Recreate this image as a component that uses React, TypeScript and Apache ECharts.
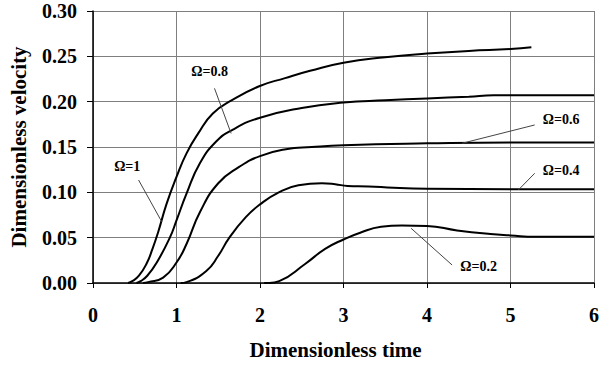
import React, { useEffect, useRef } from "react";
import * as echarts from "echarts";

const xTicks = [0, 1, 2, 3, 4, 5, 6];
const yTicks = [0, 0.05, 0.1, 0.15, 0.2, 0.25, 0.3];

const omega1: [number, number][] = [
  [0.42, 0], [0.47, 0.002], [0.55, 0.008], [0.645, 0.022], [0.71, 0.037], [0.78, 0.056],
  [0.88, 0.087], [1.0, 0.117], [1.12, 0.143], [1.26, 0.165], [1.435, 0.187], [1.67, 0.202],
  [1.99, 0.217], [2.3, 0.226], [2.6, 0.234], [3.0, 0.243], [3.5, 0.249], [4.0, 0.253],
  [4.5, 0.256], [5.0, 0.258], [5.25, 0.26],
];
const omega08: [number, number][] = [
  [0.52, 0], [0.57, 0.002], [0.65, 0.008], [0.764, 0.0226], [0.92, 0.05], [1.0, 0.069],
  [1.12, 0.0986], [1.28, 0.132], [1.475, 0.156], [1.67, 0.169], [1.99, 0.182], [2.5, 0.193],
  [3.0, 0.199], [3.5, 0.2015], [4.0, 0.2035], [4.5, 0.2055], [4.8, 0.207], [6.0, 0.207],
];
const omega06: [number, number][] = [
  [0.6, 0], [0.66, 0.001], [0.84, 0.006], [1.0, 0.0226], [1.12, 0.043], [1.28, 0.078],
  [1.5, 0.11], [1.75, 0.128], [2.0, 0.14], [2.31, 0.1475], [2.62, 0.15], [3.0, 0.152],
  [4.0, 0.154], [5.0, 0.155], [6.0, 0.155],
];
const omega04: [number, number][] = [
  [1.05, 0], [1.12, 0.001], [1.357, 0.0133], [1.5, 0.03], [1.633, 0.05], [1.83, 0.0726],
  [2.0, 0.0867], [2.225, 0.1], [2.46, 0.1078], [2.74, 0.11], [2.9, 0.109], [3.05, 0.107],
  [3.3, 0.1065], [3.6, 0.105], [4.0, 0.104], [5.0, 0.1035], [6.0, 0.1035],
];
const omega02: [number, number][] = [
  [2.05, 0], [2.11, 0], [2.23, 0.002], [2.54, 0.021], [2.78, 0.0376], [3.0, 0.048],
  [3.2, 0.0555], [3.45, 0.062], [3.7, 0.0635], [4.0, 0.063], [4.36, 0.058], [4.76, 0.054],
  [5.0, 0.0525], [5.3, 0.051], [6.0, 0.051],
];

const seriesNames = ["Ω=1", "Ω=0.8", "Ω=0.6", "Ω=0.4", "Ω=0.2"];
const seriesData = [omega1, omega08, omega06, omega04, omega02];

// label positions and leader lines in data units: [label, textX, textY, fromX, fromY, toX, toY]
const annotations: [string, number, number, number, number, number, number][] = [
  ["Ω=1", 0.41, 0.128, 0.546, 0.1136, 0.823, 0.0676],
  ["Ω=0.8", 1.397, 0.233, 1.455, 0.2147, 1.654, 0.165],
  ["Ω=0.6", 5.607, 0.18, 5.29, 0.1743, 4.42, 0.1541],
  ["Ω=0.4", 5.607, 0.1246, 5.29, 0.121, 5.094, 0.1026],
  ["Ω=0.2", 4.619, 0.018, 4.3, 0.0199, 3.81, 0.0603],
];

const FONT = "'Liberation Serif', 'Times New Roman', serif";

export default function App() {
  const ref = useRef<HTMLDivElement>(null);
  useEffect(() => {
    if (!ref.current) return;
    const chart = echarts.init(ref.current, null, { renderer: "svg" });
    chart.setOption({
      animation: false,
      backgroundColor: "#ffffff",
      grid: { left: 92, top: 11, right: 4, bottom: 82, containLabel: false },
      xAxis: {
        type: "value",
        min: xTicks[0],
        max: xTicks[xTicks.length - 1],
        interval: 1,
        name: "Dimensionless time",
        nameLocation: "middle",
        nameGap: 56,
        nameTextStyle: {
          fontFamily: FONT, fontWeight: "bold", fontSize: 21, color: "#000",
          padding: [0, 16, 0, 0],
        },
        axisLine: { onZero: false, lineStyle: { color: "#000", width: 1.5 } },
        axisTick: { show: true, length: 5, inside: false, lineStyle: { color: "#000" } },
        axisLabel: { fontFamily: FONT, fontWeight: "bold", fontSize: 20, color: "#000", margin: 22 },
        splitLine: { show: true, lineStyle: { color: "#7f7f7f", width: 1 } },
      },
      yAxis: {
        type: "value",
        min: yTicks[0],
        max: yTicks[yTicks.length - 1],
        interval: 0.05,
        name: "Dimensionless velocity",
        nameLocation: "middle",
        nameGap: 64,
        nameTextStyle: { fontFamily: FONT, fontWeight: "bold", fontSize: 21, color: "#000" },
        axisLine: { show: true, lineStyle: { color: "#000", width: 1.5 } },
        axisTick: { show: true, length: 6, lineStyle: { color: "#000" } },
        axisLabel: {
          fontFamily: FONT, fontWeight: "bold", fontSize: 20, color: "#000", margin: 16,
          formatter: (v: number) => v.toFixed(2),
        },
        splitLine: { show: true, lineStyle: { color: "#7f7f7f", width: 1 } },
      },
      series: seriesData.map((d, i) => ({
        name: seriesNames[i],
        type: "line",
        data: d,
        smooth: 0.5,
        showSymbol: false,
        lineStyle: { color: "#000", width: 2 },
        z: 5,
      })),
    });

    const px = (x: number, y: number) => chart.convertToPixel({ gridIndex: 0 }, [x, y]) as number[];
    const graphics: any[] = [];
    annotations.forEach(([label, tx, ty, fx, fy, lx, ly]) => {
      const t = px(tx, ty);
      const f = px(fx, fy);
      const l = px(lx, ly);
      graphics.push({
        type: "line",
        shape: { x1: f[0], y1: f[1], x2: l[0], y2: l[1] },
        style: { stroke: "#444", lineWidth: 1 },
        z: 10,
      });
      graphics.push({
        type: "text",
        x: t[0],
        y: t[1],
        style: {
          text: label,
          fontFamily: FONT,
          fontWeight: "bold",
          fontSize: 14,
          fill: "#000",
          align: "center",
          verticalAlign: "middle",
        },
        z: 10,
      });
    });
    chart.setOption({ graphic: graphics });

    return () => chart.dispose();
  }, []);
  return <div ref={ref} style={{ width: 602, height: 365, position: "absolute", left: 0, top: 0 }} />;
}
